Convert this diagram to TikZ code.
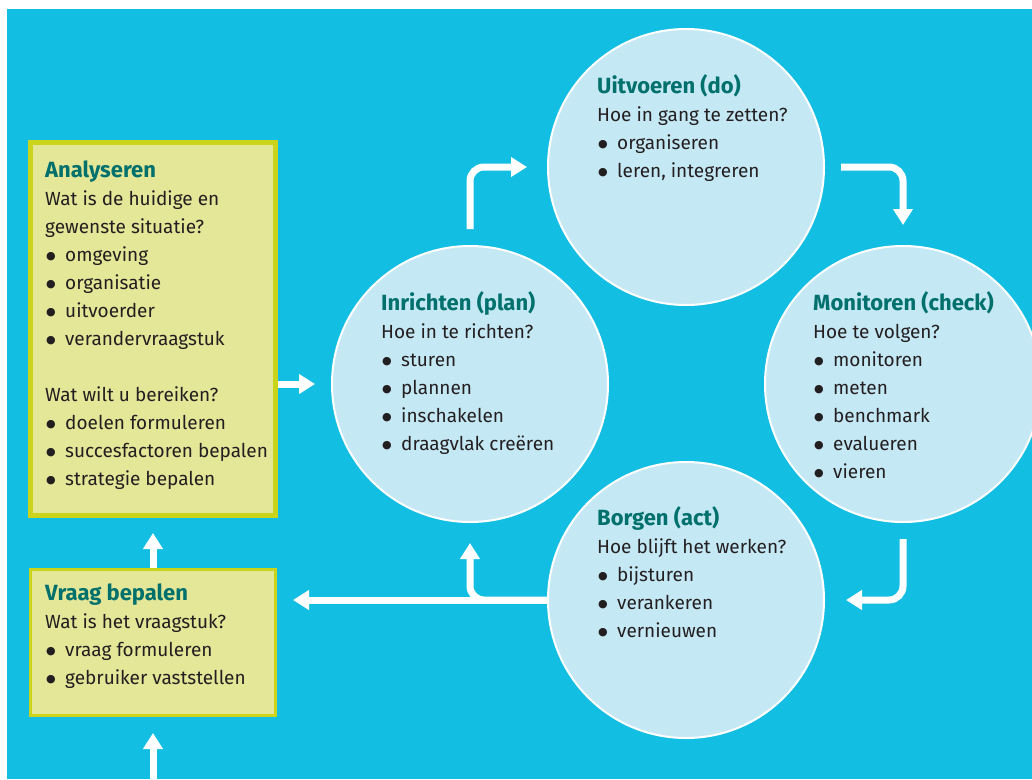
\documentclass[tikz,border=0pt]{standalone}
\usepackage{fontspec}
\setmainfont{Fira Sans}
\newfontfamily\dotfont{DejaVu Sans}
\usetikzlibrary{arrows.meta}
\definecolor{sky}{HTML}{13BEE3}
\definecolor{bubblefill}{HTML}{C5E8F5}
\definecolor{pale}{HTML}{E4E698}
\definecolor{lime}{HTML}{C9D41A}
\definecolor{petrol}{HTML}{00706C}
\definecolor{ink}{HTML}{231F20}
\newcommand{\itm}{\makebox[20pt][l]{\hspace*{1pt}\raisebox{1.5pt}{\dotfont\fontsize{11}{11}\selectfont ●}}}
\newcommand{\ttl}[1]{\rule{0pt}{19pt}{\fontsize{22}{28}\selectfont\bfseries\color{petrol}#1}}
\begin{document}
\begin{tikzpicture}[x=1pt,y=-1pt,
    >={Triangle[length=16pt,width=19pt]},
    flow/.style={->,white,line width=7pt,rounded corners=14pt},
    bubble/.style={circle,fill=bubblefill,draw=white,line width=2pt,minimum size=276pt,inner sep=0pt},
    box/.style={rectangle,fill=pale,draw=lime,minimum width=245pt,inner sep=0pt},
    txt/.style={anchor=north west,inner sep=0pt,align=left,text=ink,font=\fontsize{19}{28}\selectfont}]
    \clip (0,0) rectangle (1032,779);
    \fill[white] (0,0) rectangle (1032,779);
    \fill[sky] (7,9) rectangle (1032,779);

    \node[bubble] (do) at (686,167) {};
    \node[bubble] (plan) at (470,384) {};
    \node[bubble] (check) at (903,384) {};
    \node[bubble] (act) at (686,600) {};
    \node[box,line width=5pt,minimum height=373pt] (analyse) at (153,329) {};
    \node[box,line width=3pt,minimum height=146pt] (vraag) at (153,642.5) {};

    \node[txt] (analysetxt) at (45,158) {\ttl{Analyseren}\\
        Wat is de huidige en\\ gewenste situatie?\\
        \itm omgeving\\ \itm organisatie\\ \itm uitvoerder\\ \itm verandervraagstuk\\[28pt]
        Wat wilt u bereiken?\\ \itm doelen formuleren\\ \itm succesfactoren bepalen\\ \itm strategie bepalen};
    \node[txt] (vraagtxt) at (45,581) {\ttl{Vraag bepalen}\\ Wat is het vraagstuk?\\
        \itm vraag formuleren\\ \itm gebruiker vaststellen};
    \node[txt] (plantxt) at (381,291) {\ttl{Inrichten (plan)}\\ Hoe in te richten?\\
        \itm sturen\\ \itm plannen\\ \itm inschakelen\\ \itm draagvlak creëren};
    \node[txt] (dotxt) at (597,74) {\ttl{Uitvoeren (do)}\\ Hoe in gang te zetten?\\
        \itm organiseren\\ \itm leren, integreren};
    \node[txt] (checktxt) at (813,291) {\ttl{Monitoren (check)}\\ Hoe te volgen?\\
        \itm monitoren\\ \itm meten\\ \itm benchmark\\ \itm evalueren\\ \itm vieren};
    \node[txt] (acttxt) at (597,506) {\ttl{Borgen (act)}\\ Hoe blijft het werken?\\
        \itm bijsturen\\ \itm verankeren\\ \itm vernieuwen};

    \coordinate (entry) at (153,779);
    \draw[flow,shorten >=16pt] (entry) -- (vraag.south);
    \draw[flow,shorten >=15pt] (vraag.north) -- (analyse.south);
    \draw[flow,shorten >=16pt] (plan.west -| analyse.east) -- (plan.west);
    \draw[flow,shorten <=16pt,shorten >=20pt] (plan.north) |- (do.west);
    \draw[flow,shorten <=16pt,shorten >=20pt] (do.east) -| (check.north);
    \draw[flow,shorten <=16pt,shorten >=21pt] (check.south) |- (act.east);
    \draw[flow,shorten >=16pt] (act.west) -- (act.west -| vraag.east);
    \draw[flow,shorten >=20pt] (act.west) -| (plan.south);
\end{tikzpicture}
\end{document}
